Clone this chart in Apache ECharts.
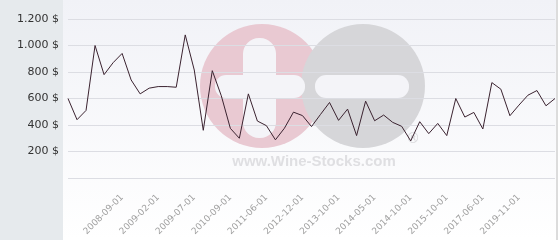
<!DOCTYPE html>
<html><head><meta charset="utf-8">
<script src="https://cdn.jsdelivr.net/npm/echarts@6/dist/echarts.min.js"></script>
<style>html,body{margin:0;padding:0;background:#fff}#c{width:560px;height:240px}</style>
</head><body><div id="c"></div>
<script>
var categories = [
 '2008-03-01','2008-04-01','2008-05-01','2008-06-01','2008-07-01','2008-08-01','2008-09-01','2008-10-01','2008-11-01','2009-01-01',
 '2009-02-01','2009-03-01','2009-04-01','2009-05-01','2009-07-01','2009-10-01','2010-01-01','2010-05-01','2010-09-01','2010-11-01',
 '2011-01-01','2011-03-01','2011-06-01','2011-10-01','2012-03-01','2012-08-01','2012-12-01','2013-02-01','2013-05-01','2013-08-01',
 '2013-10-01','2013-12-01','2014-02-01','2014-03-01','2014-05-01','2014-06-01','2014-07-01','2014-09-01','2014-10-01','2015-01-01',
 '2015-04-01','2015-07-01','2015-10-01','2016-02-01','2016-07-01','2017-01-01','2017-06-01','2018-01-01','2018-08-01','2019-03-01',
 '2019-11-01','2020-03-01','2020-08-01','2021-01-01','2021-06-01'
];
var prices = [
 600,440,510,1000,780,870,940,740,635,678,
 690,690,685,1080,815,360,810,620,375,300,
 635,430,395,288,376,497,471,388,480,570,
 435,520,320,580,432,475,420,390,280,425,
 335,412,320,600,460,495,370,720,670,470,
 550,625,660,545,600
];
var shownLabels = ['2008-09-01','2009-02-01','2009-07-01','2010-09-01','2011-06-01','2012-12-01',
 '2013-10-01','2014-05-01','2014-10-01','2015-10-01','2017-06-01','2019-11-01'];
var yTicks = [0,200,400,600,800,1000,1200];

function fmtMoney(v){
  if (v === 0) return '';
  var s = String(Math.round(v));
  s = s.replace(/\B(?=(\d{3})+(?!\d))/g, '.');
  return s + ' $';
}

var chart = echarts.init(document.getElementById('c'), null, {renderer:'canvas'});
chart.setOption({
  animation:false,
  textStyle:{fontFamily:'DejaVu Sans'},
  graphic:[
    {type:'rect', z:-20, shape:{x:0,y:0,width:63,height:240}, style:{fill:'#e6eaed'}},
    {type:'rect', z:-20, shape:{x:63,y:0,width:493,height:240},
      style:{fill:new echarts.graphic.LinearGradient(0,0,0,1,[{offset:0,color:'#f1f2f7'},{offset:1,color:'#ffffff'}])}},
    {type:'rect', z:-20, shape:{x:556,y:0,width:2,height:240}, style:{fill:'#dcdcdc'}},
    {type:'circle', z:-15, shape:{cx:262,cy:86,r:62}, style:{fill:'#e9c9d2'}},
    {type:'circle', z:-14, shape:{cx:363,cy:86,r:62}, style:{fill:'#d6d6d9'}},
    {type:'rect', z:-13, shape:{x:243,y:38,width:33,height:100,r:16}, style:{fill:'#f4f4f8'}},
    {type:'rect', z:-13, shape:{x:215,y:75,width:90,height:23,r:11}, style:{fill:'#f4f4f8'}},
    {type:'rect', z:-13, shape:{x:315,y:75,width:94,height:23,r:11}, style:{fill:'#f4f4f8'}},
    {type:'text', z:-13, x:314, y:162, style:{text:'www.Wine-Stocks.com',fill:'#dfdfe2',font:'bold 15px "Liberation Sans"',align:'center',verticalAlign:'middle'}},
    {type:'text', z:-13, x:413, y:139, style:{text:'®',fill:'#d6d6d9',font:'14px "DejaVu Sans"',align:'center',verticalAlign:'middle'}}
  ],
  grid:{left:68,right:5,top:19,bottom:62,containLabel:false},
  xAxis:{
    type:'category', data:categories, boundaryGap:false,
    axisLine:{show:false}, axisTick:{show:false},
    axisLabel:{
      rotate:45, color:'#a0a0a0', fontSize:9, margin:18,
      interval:function(i, v){ return shownLabels.indexOf(v) >= 0; }
    },
    splitLine:{show:false}
  },
  yAxis:{
    type:'value', min:yTicks[0], max:yTicks[yTicks.length-1], interval:200,
    axisLine:{show:false}, axisTick:{show:false},
    axisLabel:{color:'#333', fontSize:11, margin:9, formatter:fmtMoney},
    splitLine:{lineStyle:{color:'#dcdde3', width:1}}
  },
  series:[{
    type:'line', data:prices, symbol:'none',
    lineStyle:{color:'#3b2330', width:1}
  }]
});
</script></body></html>
